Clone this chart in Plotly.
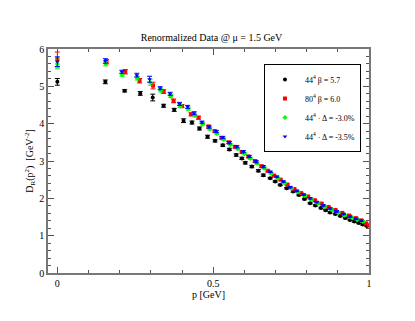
import plotly.graph_objects as go

# 44^4, beta = 5.7
p_black = [0, 0.154, 0.216, 0.266, 0.306, 0.341, 0.375, 0.405, 0.432, 0.456, 0.482, 0.506, 0.531, 0.552, 0.574, 0.592, 0.603, 0.624, 0.645, 0.661, 0.683, 0.699, 0.715, 0.736, 0.757, 0.775, 0.793, 0.811, 0.828, 0.846, 0.861, 0.875, 0.892, 0.908, 0.924, 0.939, 0.953, 0.967, 0.980, 0.993]
d_black = [5.12, 5.12, 4.88, 4.81, 4.70, 4.48, 4.37, 4.08, 4.03, 3.87, 3.65, 3.54, 3.42, 3.31, 3.16, 3.07, 2.95, 2.85, 2.74, 2.62, 2.54, 2.45, 2.36, 2.27, 2.18, 2.09, 1.98, 1.87, 1.81, 1.74, 1.68, 1.62, 1.58, 1.53, 1.47, 1.42, 1.38, 1.34, 1.30, 1.26]
e_black = [0.09, 0.05, 0.03, 0.05, 0.09, 0.04, 0.04, 0.05, 0.04, 0.04, 0.04, 0.03, 0.03, 0.03, 0.03, 0.03, 0.03, 0.03, 0.03, 0.03, 0.02, 0.02, 0.02, 0.02, 0.02, 0.02, 0.02, 0.02, 0.02, 0.02, 0.02, 0.02, 0.02, 0.02, 0.02, 0.02, 0.02, 0.02, 0.02, 0.02]

# 80^4, beta = 6.0
p_red = [0, 0.158, 0.218, 0.264, 0.307, 0.341, 0.373, 0.400, 0.429, 0.453, 0.485, 0.505, 0.527, 0.550, 0.570, 0.592, 0.613, 0.634, 0.655, 0.675, 0.695, 0.716, 0.738, 0.760, 0.782, 0.804, 0.826, 0.848, 0.870, 0.892, 0.914, 0.936, 0.958, 0.975, 0.990, 1.0]
d_red = [5.72, 5.66, 5.39, 5.15, 5.02, 4.86, 4.61, 4.47, 4.25, 4.16, 3.92, 3.80, 3.62, 3.50, 3.38, 3.24, 3.12, 3.00, 2.86, 2.74, 2.61, 2.50, 2.37, 2.25, 2.14, 2.05, 1.95, 1.86, 1.77, 1.69, 1.61, 1.54, 1.47, 1.41, 1.33, 1.28]
e_red = [0.2, 0.06, 0.06, 0.06, 0.09, 0.05, 0.05, 0.04, 0.04, 0.04, 0.04, 0.03, 0.03, 0.03, 0.03, 0.03, 0.03, 0.03, 0.03, 0.03, 0.02, 0.02, 0.02, 0.02, 0.02, 0.02, 0.02, 0.02, 0.02, 0.02, 0.02, 0.02, 0.02, 0.02, 0.02, 0.02]

# 44^4, Delta = -3.0%
p_green = [0, 0.155, 0.208, 0.256, 0.298, 0.332, 0.364, 0.394, 0.420, 0.441, 0.466, 0.489, 0.512, 0.534, 0.555, 0.579, 0.600, 0.619, 0.641, 0.664, 0.686, 0.708, 0.729, 0.751, 0.772, 0.794, 0.815, 0.836, 0.858, 0.879, 0.901, 0.922, 0.943, 0.962, 0.980]
d_green = [5.60, 5.61, 5.31, 5.22, 5.11, 4.89, 4.74, 4.47, 4.40, 4.22, 3.99, 3.86, 3.74, 3.58, 3.44, 3.33, 3.20, 3.07, 2.94, 2.81, 2.67, 2.54, 2.41, 2.27, 2.17, 2.07, 1.97, 1.87, 1.78, 1.70, 1.62, 1.55, 1.49, 1.43, 1.38]
e_green = [0.13, 0.06, 0.04, 0.05, 0.08, 0.04, 0.04, 0.04, 0.04, 0.04, 0.03, 0.03, 0.03, 0.03, 0.03, 0.03, 0.03, 0.03, 0.03, 0.03, 0.02, 0.02, 0.02, 0.02, 0.02, 0.02, 0.02, 0.02, 0.02, 0.02, 0.02, 0.02, 0.02, 0.02, 0.02]

# 44^4, Delta = -3.5%
p_blue = [0, 0.154, 0.207, 0.255, 0.296, 0.330, 0.362, 0.392, 0.418, 0.439, 0.464, 0.487, 0.510, 0.531, 0.552, 0.576, 0.597, 0.616, 0.638, 0.661, 0.683, 0.704, 0.725, 0.747, 0.768, 0.790, 0.811, 0.832, 0.853, 0.875, 0.896, 0.918, 0.939, 0.958, 0.975]
d_blue = [5.66, 5.68, 5.39, 5.30, 5.19, 4.95, 4.80, 4.53, 4.45, 4.28, 4.04, 3.91, 3.79, 3.63, 3.49, 3.38, 3.25, 3.12, 2.98, 2.85, 2.71, 2.58, 2.45, 2.30, 2.20, 2.10, 2.00, 1.90, 1.81, 1.73, 1.65, 1.58, 1.51, 1.45, 1.40]
e_blue = [0.13, 0.06, 0.04, 0.05, 0.08, 0.04, 0.04, 0.04, 0.04, 0.04, 0.03, 0.03, 0.03, 0.03, 0.03, 0.03, 0.03, 0.03, 0.03, 0.03, 0.02, 0.02, 0.02, 0.02, 0.02, 0.02, 0.02, 0.02, 0.02, 0.02, 0.02, 0.02, 0.02, 0.02, 0.02]

series = [
	(p_black, d_black, e_black, "black", "circle", "44<sup>4</sup> β = 5.7"),
	(p_red, d_red, e_red, "red", "square", "80<sup>4</sup> β = 6.0"),
	(p_green, d_green, e_green, "#00ff00", "diamond", "44<sup>4</sup> · Δ = -3.0%"),
	(p_blue, d_blue, e_blue, "blue", "triangle-down", "44<sup>4</sup> · Δ = -3.5%"),
]

fig = go.Figure()

for p, d, e, color, symbol, name in series:
	fig.add_trace(go.Scatter(
		x = p, y = d, name = name, mode = "markers",
		marker = dict(color = color, symbol = symbol, size = 4, line = dict(width = 0)),
		error_y = dict(type = "data", array = e, color = color, thickness = 1, width = 2.5),
	))

axis_style = dict(
	showline = True, linecolor = "#777777", linewidth = 1.5, mirror = "allticks",
	ticks = "inside", ticklen = 6, tickcolor = "#555555", tickwidth = 1,
	showgrid = False, zeroline = False,
	tickfont = dict(size = 10, color = "black"),
)

fig.update_xaxes(range = [-0.03, 1.0], tick0 = 0, dtick = 0.5,
	minor = dict(ticks = "inside", ticklen = 3, dtick = 0.1, tickcolor = "#555555"),
	title = dict(text = "p [GeV]", font = dict(size = 10), standoff = 2), **axis_style)

fig.update_yaxes(range = [0, 6], tick0 = 0, dtick = 1,
	minor = dict(ticks = "inside", ticklen = 3, dtick = 0.2, tickcolor = "#555555"),
	title = dict(text = "D<sub>R</sub>(p<sup>2</sup>)  [GeV<sup>-2</sup>]", font = dict(size = 10), standoff = 4), **axis_style)

# page body adds 8px, so the figure is drawn slightly smaller and shifted margins
fig.update_layout(
	width = 407, height = 313,
	margin = dict(l = 40, r = 46, t = 41, b = 48),
	paper_bgcolor = "white", plot_bgcolor = "white",
	font = dict(family = "Liberation Serif", color = "black"),
	title = dict(text = "Renormalized Data @ μ = 1.5 GeV", font = dict(size = 10), x = 0.5, xanchor = "center", y = 0.907, yanchor = "middle"),
	legend = dict(x = 0.975, y = 0.933, xanchor = "right", yanchor = "top",
		bgcolor = "white", bordercolor = "black", borderwidth = 1,
		font = dict(size = 8), tracegroupgap = 0, itemwidth = 30),
)

fig.write_html("out.html")
